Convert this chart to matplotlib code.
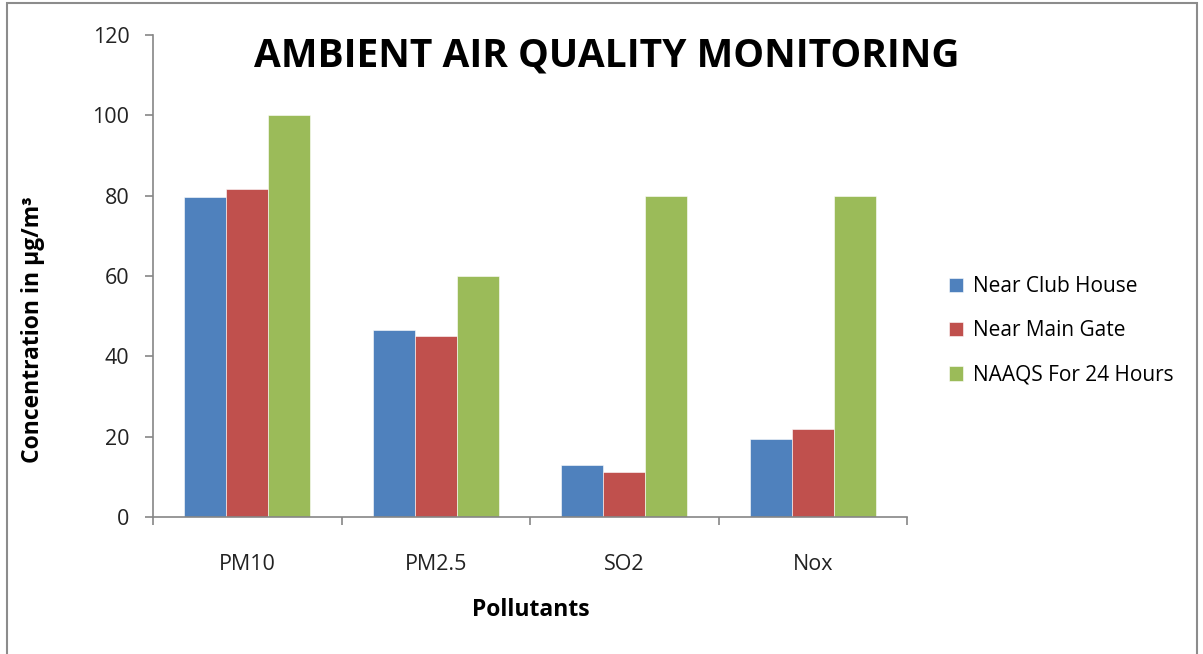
import matplotlib.pyplot as plt
import numpy as np
from matplotlib.patches import Rectangle

plt.rcParams['font.family'] = ['Open Sans', 'DejaVu Sans']

pollutants = ['PM10', 'PM2.5', 'SO2', 'Nox']
club_house = [79.6, 46.6, 13.0, 19.4]
main_gate = [81.7, 45.1, 11.1, 21.8]
naaqs = [100, 60, 80, 80]
series_names = ['Near Club House', 'Near Main Gate', 'NAAQS For 24 Hours']
colors = ['#4f81bd', '#c0504d', '#9bbb59']

W, H = 1203, 654
fig = plt.figure(figsize=(W / 100, H / 100), dpi=100)
ax = fig.add_axes([153 / W, 1 - 517 / H, (907 - 153) / W, (517 - 35) / H])

# outer chart frame
fig.patches.append(Rectangle((7 / W, -0.1), (1197 - 7) / W, 1.1 - 3 / H,
                             transform=fig.transFigure, fill=False,
                             edgecolor='#8c8c8c', linewidth=1.5))

x = np.arange(len(pollutants))
bw = 0.223
for i, (vals, name) in enumerate(zip([club_house, main_gate, naaqs], series_names)):
    ax.bar(x + (i - 1) * bw, vals, bw, color=colors[i], label=name,
           edgecolor='white', linewidth=0.4)

ax.set_xlim(-0.5, len(pollutants) - 0.5)
ax.set_ylim(0, 120)
ax.set_yticks(range(0, 121, 20))
ax.set_xticks(x)
ax.set_xticklabels(pollutants)
ax.set_xticks(np.arange(-0.5, len(pollutants)), minor=True)
ax.tick_params(axis='x', which='major', length=0, pad=27, labelsize=15.5, colors='#222222')
ax.tick_params(axis='x', which='minor', length=6, color='#868686', width=1.2)
ax.tick_params(axis='y', length=6, color='#868686', width=1.2, pad=11, labelsize=15.5, labelcolor='#222222')

for s in ['top', 'right']:
    ax.spines[s].set_visible(False)
for s in ['left', 'bottom']:
    ax.spines[s].set_color('#868686')
    ax.spines[s].set_linewidth(1.2)

fig.text(607 / W, 1 - 56 / H, 'AMBIENT AIR QUALITY MONITORING', ha='center', va='center',
         fontsize=28, fontweight='bold', color='black')
fig.text(33 / W, 1 - 330 / H, 'Concentration in µg/m³', rotation=90, ha='center', va='center',
         fontsize=16.5, fontweight='bold')
fig.text(531 / W, 1 - 610 / H, 'Pollutants', ha='center', va='center',
         fontsize=16.5, fontweight='bold')

ax.legend(loc='center left', bbox_to_anchor=(930 / W, 1 - 331 / H),
          bbox_transform=fig.transFigure, frameon=False, fontsize=15,
          handlelength=0.7, handleheight=0.7, handletextpad=0.45, labelspacing=1.12)

fig.savefig('out.png', dpi=100)
